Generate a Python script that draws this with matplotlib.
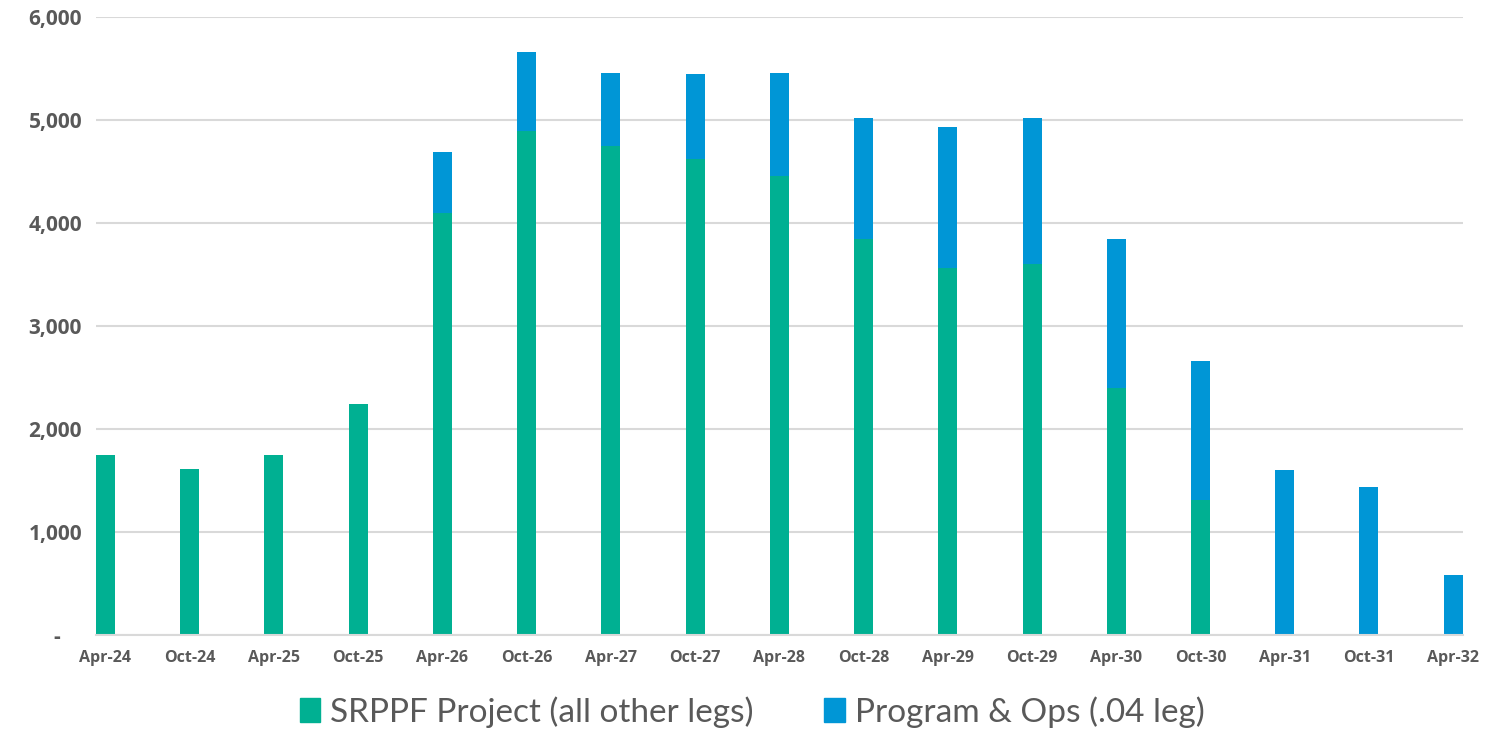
import numpy as np
import matplotlib.pyplot as plt
from matplotlib.patches import Patch

# datos
periodos = ["Apr-24", "Oct-24", "Apr-25", "Oct-25", "Apr-26", "Oct-26", "Apr-27", "Oct-27",
            "Apr-28", "Oct-28", "Apr-29", "Oct-29", "Apr-30", "Oct-30", "Apr-31", "Oct-31", "Apr-32"]
srppf = [1750, 1610, 1750, 2245, 4100, 4890, 4750, 4620, 4455, 3845, 3565, 3600, 2395, 1310, 0, 0, 0]
total = [1750, 1610, 1750, 2245, 4690, 5660, 5455, 5445, 5455, 5020, 4930, 5020, 3845, 2660, 1600, 1440, 580]
prog_ops = [t - s for t, s in zip(total, srppf)]

verde = "#00B092"
azul = "#0096D6"
gris = "#595959"

fig = plt.figure(figsize=(14.88, 7.31), dpi=100)
ax = fig.add_axes([0.0645, 0.1313, 0.9185, 0.8454])

x = np.arange(len(periodos))
ancho = 0.226
ax.bar(x, srppf, width=ancho, color=verde, zorder=3)
ax.bar(x, prog_ops, width=ancho, bottom=srppf, color=azul, zorder=3)

ax.set_xlim(-ancho / 2, len(periodos) - 1 + ancho / 2)
ax.set_ylim(0, 6000)
yt = [0, 1000, 2000, 3000, 4000, 5000, 6000]
ax.set_yticks(yt)
ax.set_yticklabels(["-    "] + [f"{v:,}" for v in yt[1:]])
ax.set_xticks(x)
ax.set_xticklabels(periodos)

for lab in ax.get_yticklabels():
    lab.set_fontfamily(["Open Sans", "DejaVu Sans"])
    lab.set_fontweight("bold")
    lab.set_fontsize(15)
    lab.set_color(gris)
for lab in ax.get_xticklabels():
    lab.set_fontfamily(["Open Sans", "DejaVu Sans"])
    lab.set_fontweight("bold")
    lab.set_fontsize(11.5)
    lab.set_color(gris)

ax.tick_params(axis="y", length=0, pad=10)
ax.tick_params(axis="x", length=0, pad=11)
ax.grid(axis="y", color="#d9d9d9", linewidth=1.5, zorder=0)
for lado in ["top", "right", "left"]:
    ax.spines[lado].set_visible(False)
ax.spines["bottom"].set_color("#d9d9d9")
ax.spines["bottom"].set_linewidth(1.5)
ax.spines["bottom"].set_zorder(4)

handles = [Patch(color=verde, label="SRPPF Project (all other legs)"),
           Patch(color=azul, label="Program & Ops (.04 leg)")]
fig.legend(handles=handles, loc="center", bbox_to_anchor=(752 / 1488, 1 - 712 / 731),
           ncol=2, frameon=False, handlelength=0.62, handleheight=0.72, handletextpad=0.3,
           columnspacing=2.1,
           prop={"family": ["Lato", "DejaVu Sans"], "size": 24},
           labelcolor=gris)

fig.savefig("out.png", dpi=100)
